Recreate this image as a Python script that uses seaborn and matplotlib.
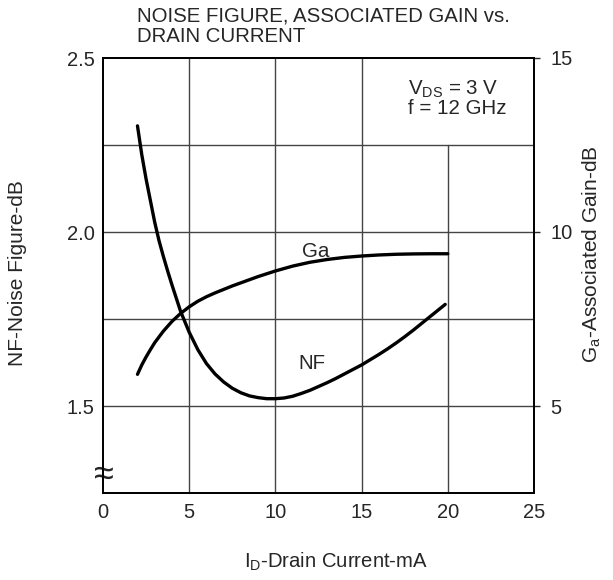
import matplotlib
matplotlib.use("Agg")
import matplotlib.pyplot as plt
import seaborn as sns
import pandas as pd

# values
nf_current = [2.0, 2.25, 2.5, 2.75, 3.0, 3.25, 3.5, 3.75, 4.0, 4.5, 5.0, 5.5, 6.0, 6.5, 7.0, 7.5, 8.0, 8.5,
              9.0, 9.5, 10.0, 10.5, 11.0, 11.5, 12.0, 12.5, 13.0, 13.5, 14.0, 14.5, 15.0, 15.5, 16.0, 16.5,
              17.0, 17.5, 18.0, 18.5, 19.0, 19.5, 19.85]
nf_db = [2.305, 2.222, 2.152, 2.09, 2.028, 1.975, 1.93, 1.888, 1.848, 1.772, 1.712, 1.662, 1.622, 1.592,
         1.569, 1.551, 1.538, 1.529, 1.524, 1.521, 1.521, 1.523, 1.528, 1.536, 1.545, 1.556, 1.567, 1.579,
         1.592, 1.605, 1.618, 1.633, 1.648, 1.664, 1.681, 1.699, 1.718, 1.738, 1.758, 1.778, 1.792]

ga_current = [2.0, 2.25, 2.5, 2.75, 3.0, 3.5, 4.0, 4.5, 5.0, 5.5, 6.0, 6.5, 7.0, 7.5, 8.0, 8.5, 9.0, 9.5,
              10.0, 11.0, 12.0, 13.0, 14.0, 15.0, 16.0, 17.0, 18.0, 19.0, 20.0]
ga_db = [5.91, 6.18, 6.41, 6.62, 6.82, 7.15, 7.43, 7.66, 7.85, 8.01, 8.14, 8.25, 8.35, 8.45, 8.54, 8.63,
         8.72, 8.8, 8.88, 9.02, 9.13, 9.21, 9.27, 9.31, 9.34, 9.36, 9.37, 9.375, 9.375]

x_ticks = [0, 5, 10, 15, 20, 25]
nf_ticks = [1.5, 2.0, 2.5]
ga_ticks = [5, 10, 15]

sns.set_style("white")
plt.rcParams["font.family"] = ["Liberation Sans", "DejaVu Sans"]
plt.rcParams["mathtext.fontset"] = "custom"
plt.rcParams["mathtext.rm"] = "Liberation Sans"

nf = pd.DataFrame({"ID": nf_current, "NF": nf_db})
ga = pd.DataFrame({"ID": ga_current, "Ga": ga_db})

fig = plt.figure(figsize=(6.13, 5.80), dpi=100)
ax = fig.add_axes([103 / 613, 87 / 580, 431 / 613, 435 / 580])
ax2 = ax.twinx()

ax.set_xlim(0, 25)
ax.set_ylim(1.25, 2.5)
ax2.set_ylim(2.5, 15)

# grid (x=20 line stops under the condition box)
grid_kw = dict(color="#444444", lw=1.0, zorder=1)
for gx in [5, 10, 15]:
    ax.axvline(gx, **grid_kw)
ax.axvline(20, ymax=(2.25 - 1.25) / 1.25, **grid_kw)
for gy in [1.5, 1.75, 2.0, 2.25]:
    ax.axhline(gy, **grid_kw)

sns.lineplot(data=nf, x="ID", y="NF", ax=ax, color="black", lw=2.4, sort=False, zorder=3)
sns.lineplot(data=ga, x="ID", y="Ga", ax=ax2, color="black", lw=2.4, sort=False, zorder=3)

ax.set_xticks(x_ticks)
ax.set_xticklabels([str(t) for t in x_ticks])
ax.set_yticks(nf_ticks)
ax.set_yticklabels(["1.5", "2.0", "2.5"])
ax2.set_yticks(ga_ticks)
ax2.set_yticklabels(["5", "10", "15"])
ax.tick_params(axis="x", length=0, pad=7, labelsize=14.5)
ax.tick_params(axis="y", length=0, pad=6, labelsize=14.5)
ax2.tick_params(axis="y", length=4, width=1, pad=8, labelsize=14.5, direction="out", right=True)

for a in (ax, ax2):
    for s in a.spines.values():
        s.set_color("black")
        s.set_linewidth(1.3)

ax.set_xlabel("")
ax.set_ylabel("")
ax2.set_ylabel("")
fig.text(336 / 613, 1 - 562 / 580, "I$_\\mathregular{D}$-Drain Current-mA", ha="center", va="center", fontsize=14.6)
fig.text(18 / 613, 1 - 273 / 580, "NF-Noise Figure-dB", ha="center", va="center", rotation=90, fontsize=15)
fig.text(592 / 613, 1 - 254 / 580, "G$_\\mathregular{a}$-Associated Gain-dB", ha="center", va="center", rotation=90, fontsize=15)

fig.text(137 / 613, 1 - 6 / 580, "NOISE FIGURE, ASSOCIATED GAIN vs.\nDRAIN CURRENT", ha="left", va="top", fontsize=14.7, linespacing=1.1)

ax.text(17.69, 2.44, "V$_\\mathregular{DS}$ = 3 V", ha="left", va="top", fontsize=14.8)
ax.text(17.69, 2.383, "f = 12 GHz", ha="left", va="top", fontsize=14.8)

ax.text(12.1, 1.623, "NF", ha="center", va="center", fontsize=14.8)
ax2.text(12.35, 9.45, "Ga", ha="center", va="center", fontsize=14.8)

# axis break mark
ax.text(0.05, 1.30, "≈", ha="center", va="center", fontsize=26, clip_on=False)

fig.savefig("out.png", dpi=100)
